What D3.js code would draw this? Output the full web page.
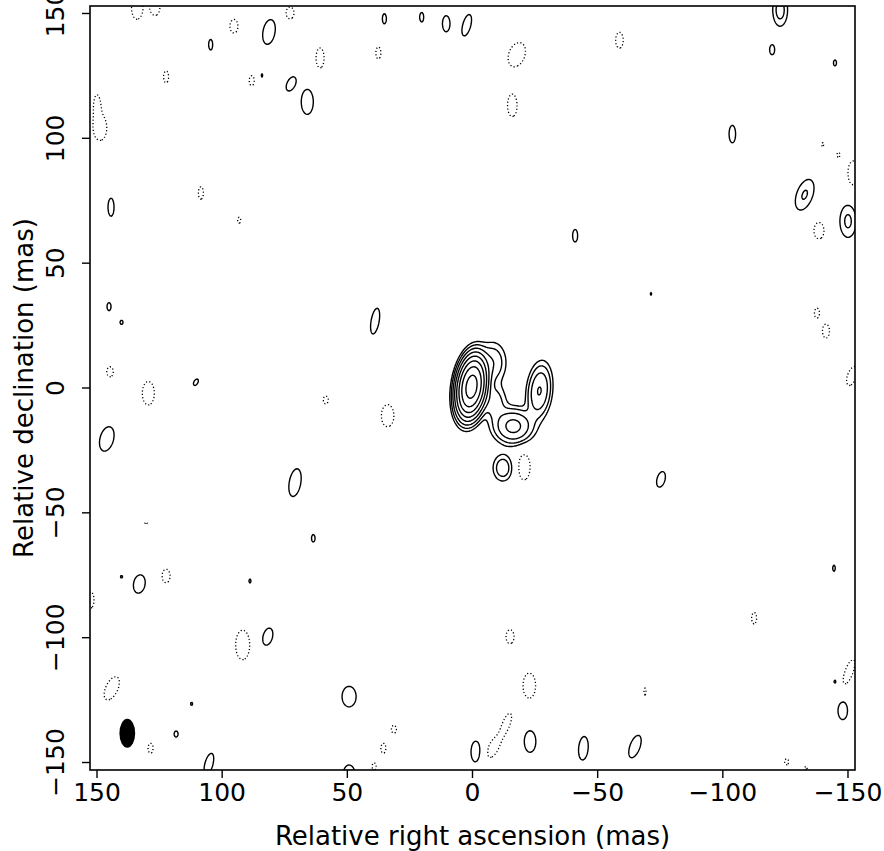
<!DOCTYPE html>
<html><head><meta charset="utf-8">
<script src="https://cdn.jsdelivr.net/npm/d3@7"></script>
<style>body{margin:0;background:#fff} text{font-family:"DejaVu Sans",sans-serif}</style>
</head><body><svg id="c" width="884" height="851"></svg>
<script>
// ---- data (mas) ----
const xTicks = [150, 100, 50, 0, -50, -100, -150];
const yTicks = [150, 100, 50, 0, -50, -100, -150];
const posLevels = [1, 2, 4, 8, 16, 32, 64, 128];
const negLevels = [1];
// Gaussian components: [ra, dec, peak, sigmaMinor, sigmaMajor, pa]
const sourceComponents = [
  [0.2, 0.3, 180, 2.6, 5.6, -8],
  [-8.5, 10.0, 3.5, 3.2, 5.0, 0],
  [-9.0, -6.0, 3.0, 3.0, 4.5, 0],
  [-26.9, -1.4, 8.3, 2.6, 6.0, -6],
  [-16.5, -15.5, 10, 4.3, 3.8, 0],
  [-12.3, -32.2, 3.3, 2.5, 3.4, 0]
];
const positiveNoise = [
  [-123.1, 151.2, 2.7, 2.1, 4.6, 0], [-119.9, 135.3, 1.65, 1.0, 2.0, 0],
  [-145.0, 130.0, 1.65, 0.6, 1.2, 0], [-104.0, 101.5, 1.65, 1.3, 3.5, 0],
  [-132.9, 77.2, 2.14, 2.6, 5.2, -20], [-150.2, 66.6, 2.3, 2.5, 5.0, 0],
  [-41.2, 60.8, 1.65, 1.0, 2.5, 0], [-71.5, 37.5, 1.65, 0.3, 0.5, 0],
  [104.4, 137.3, 1.65, 0.8, 2.1, 0], [81.1, 142.4, 1.65, 2.4, 5.0, -10],
  [35.0, 147.7, 1.65, 0.8, 2.0, 0], [20.1, 148.3, 1.65, 0.8, 1.9, 0],
  [10.3, 145.7, 1.65, 1.5, 3.2, 0], [2.1, 145.1, 1.65, 1.6, 4.4, -15],
  [83.9, 125.0, 1.65, 0.3, 0.6, 0], [72.3, 121.6, 1.65, 1.6, 3.0, -25],
  [65.8, 114.4, 1.65, 2.4, 5.0, 0], [144.2, 72.2, 1.65, 1.2, 3.6, 0],
  [145.0, 32.4, 1.65, 0.8, 1.6, 0], [140.0, 26.1, 1.65, 0.6, 0.8, 0],
  [110.3, 2.1, 1.65, 0.8, 1.4, -30], [145.9, -20.6, 1.65, 2.7, 5.0, -15],
  [38.7, 26.6, 1.65, 1.6, 5.2, -10], [70.7, -38.1, 1.65, 2.3, 5.6, -10],
  [-75.5, -36.8, 1.65, 1.6, 3.2, -15], [63.4, -60.4, 1.65, 0.7, 1.5, 0],
  [140.0, -75.8, 1.65, 0.4, 0.5, 0], [132.9, -78.7, 1.65, 2.3, 3.7, -10],
  [88.7, -77.5, 1.65, 0.4, 0.8, 0], [81.6, -99.8, 1.65, 1.9, 3.5, -15],
  [49.1, -123.8, 1.65, 2.8, 4.1, 0], [112.0, -126.7, 1.65, 0.4, 0.6, 0],
  [118.2, -138.8, 1.65, 0.8, 1.2, 0], [105.1, -150.8, 1.65, 1.6, 4.4, -15],
  [49.1, -155.2, 1.65, 2.4, 4.0, 0], [-144.6, -72.4, 1.65, 0.5, 1.2, 0],
  [-145.0, -117.8, 1.65, 0.4, 0.6, 0], [-148.1, -129.4, 1.65, 1.9, 3.6, 0],
  [-1.6, -146.0, 1.65, 2.0, 4.4, 0], [-23.2, -141.8, 1.65, 2.3, 4.3, 0],
  [-44.5, -144.5, 1.65, 1.9, 4.7, -5], [-65.1, -143.8, 1.65, 2.0, 4.7, -20]
];
const negativeNoise = [
  [133.8, 152.0, -1.65, 2.2, 4.5, 0], [126.6, 153.0, -1.65, 2.0, 4.0, 0],
  [72.7, 150.0, -1.65, 1.6, 2.4, 0], [95.1, 144.7, -1.65, 1.6, 2.7, 0],
  [60.7, 132.0, -1.65, 1.6, 4.0, 0], [37.4, 134.0, -1.65, 1.0, 2.4, 0],
  [122.2, 124.4, -1.65, 1.0, 2.4, 0], [88.0, 122.9, -1.65, 1.0, 2.0, 0],
  [148.6, 104.0, -1.5, 3.0, 5.6, 0], [149.8, 113.9, -1.3, 1.3, 4.0, 0],
  [108.3, 77.9, -1.65, 1.0, 2.5, 0], [93.0, 67.0, -1.65, 0.6, 1.2, 0],
  [-17.9, 133.3, -1.65, 3.2, 5.0, -20], [-58.9, 139.1, -1.65, 1.5, 3.2, 0],
  [-16.1, 113.0, -1.65, 1.9, 4.5, 0], [-140.1, 97.3, -1.65, 0.4, 0.8, 0],
  [-146.4, 93.2, -1.65, 0.6, 1.0, 0], [-152.2, 85.9, -1.65, 2.0, 4.8, 0],
  [-138.6, 62.8, -1.65, 2.0, 3.3, 0], [144.6, 6.3, -1.65, 1.3, 2.0, 0],
  [129.3, -2.3, -1.65, 2.4, 4.7, 0], [58.4, -5.0, -1.65, 1.0, 1.6, 0],
  [33.7, -11.3, -1.65, 2.5, 4.4, 0], [-137.8, 29.8, -1.65, 1.0, 2.0, 0],
  [-141.4, 22.6, -1.65, 1.4, 2.8, 0], [-151.8, 4.6, -1.65, 1.8, 4.0, -20],
  [130.2, -54.4, -1.65, 0.4, 0.5, 0], [122.2, -75.5, -1.65, 1.6, 2.7, 0],
  [152.2, -85.1, -1.65, 1.2, 3.2, 0], [91.6, -103.1, -1.65, 2.8, 5.9, 0],
  [143.9, -120.5, -1.65, 2.4, 5.0, -25], [128.4, -144.5, -1.65, 1.0, 2.0, 0],
  [31.2, -136.9, -1.65, 1.0, 1.6, 0], [35.4, -144.5, -1.65, 1.0, 2.0, 0],
  [39.1, -151.9, -1.65, 0.8, 1.6, 0], [-112.7, -92.4, -1.65, 1.0, 2.3, 0],
  [-15.2, -99.8, -1.65, 1.6, 2.8, 0], [-22.9, -119.4, -1.65, 2.5, 5.0, 0],
  [-69.1, -121.8, -1.65, 0.4, 1.4, 0], [-150.6, -113.9, -1.65, 1.6, 5.2, -20],
  [-8.4, -144.4, -1.4, 2.4, 5.2, -25], [-14.0, -134.0, -1.4, 1.6, 4.4, -20],
  [-125.7, -149.9, -1.65, 0.8, 1.2, 0],
  [-133.4, -152.4, -1.65, 0.5, 0.6, 0], [-20.8, -31.8, -1.65, 2.4, 5.2, 0]
];
// restoring beam: [ra, dec, minor FWHM, major FWHM, pa]
const beam = [137.7, -138.5, 6.3, 11.6, 0];
const xDomain = [152.6, -153.0];
const yDomain = [152.8, -153.2];

// ---- layout ----
const M = {left: 90, top: 6, right: 855, bottom: 770};
const svg = d3.select("#c");
const xs = d3.scaleLinear().domain(xDomain).range([M.left, M.right]);
const ys = d3.scaleLinear().domain(yDomain).range([M.top, M.bottom]);

// ---- image grid ----
const nx = Math.round(M.right - M.left) + 1, ny = Math.round(M.bottom - M.top) + 1;
const dx = (xDomain[1] - xDomain[0]) / (nx - 1), dy = (yDomain[1] - yDomain[0]) / (ny - 1);
const grid = new Float64Array(nx * ny);
const comps = sourceComponents.concat(positiveNoise, negativeNoise);
comps.forEach(([ra, dec, A, sa, sb, pa]) => {
  const t = pa * Math.PI / 180, c = Math.cos(t), s = Math.sin(t);
  const R = 4.5 * Math.max(sa, sb);
  const i0 = Math.max(0, Math.floor((ra + R - xDomain[0]) / dx)), i1 = Math.min(nx - 1, Math.ceil((ra - R - xDomain[0]) / dx));
  const j0 = Math.max(0, Math.floor((dec + R - yDomain[0]) / dy)), j1 = Math.min(ny - 1, Math.ceil((dec - R - yDomain[0]) / dy));
  for (let j = j0; j <= j1; j++) {
    const Y = yDomain[0] + j * dy - dec;
    for (let i = i0; i <= i1; i++) {
      const X = xDomain[0] + i * dx - ra;
      const u = X * c - Y * s, v = X * s + Y * c;
      grid[j * nx + i] += A * Math.exp(-0.5 * (u * u / (sa * sa) + v * v / (sb * sb)));
    }
  }
});
const neg = grid.map(v => -v);

const proj = d3.geoTransform({point(x, y) {
  this.stream.point(xs(xDomain[0] + (x - 0.5) * dx), ys(yDomain[0] + (y - 0.5) * dy));
}});
const path = d3.geoPath(proj);

svg.append("clipPath").attr("id", "clip").append("rect")
  .attr("x", M.left).attr("y", M.top).attr("width", M.right - M.left).attr("height", M.bottom - M.top);
const plot = svg.append("g").attr("clip-path", "url(#clip)");

const posC = d3.contours().size([nx, ny]).thresholds(posLevels)(grid);
plot.selectAll("path.pos").data(posC).join("path").attr("class", "pos")
  .attr("d", path).attr("fill", "none").attr("stroke", "#000").attr("stroke-width", 1.4);
const negC = d3.contours().size([nx, ny]).thresholds(negLevels)(neg);
plot.selectAll("path.neg").data(negC).join("path").attr("class", "neg")
  .attr("d", path).attr("fill", "none").attr("stroke", "#000").attr("stroke-width", 1.3)
  .attr("stroke-dasharray", "1.2 2.2");

// beam
const [bra, bdec, bmin, bmaj, bpa] = beam;
plot.append("ellipse")
  .attr("cx", xs(bra)).attr("cy", ys(bdec))
  .attr("rx", Math.abs(xs(bra - bmin / 2) - xs(bra)))
  .attr("ry", Math.abs(ys(bdec + bmaj / 2) - ys(bdec)))
  .attr("transform", `rotate(${-bpa},${xs(bra)},${ys(bdec)})`)
  .attr("fill", "#000");

// ---- axes ----
const fmt = d => d < 0 ? "\u2212" + Math.abs(d) : String(d);
const FS = 25;
const gx = svg.append("g").attr("transform", `translate(0,${M.bottom})`)
  .call(d3.axisBottom(xs).tickValues(xTicks).tickFormat(fmt).tickSizeInner(8).tickSizeOuter(0).tickPadding(5));
const gy = svg.append("g").attr("transform", `translate(${M.left},0)`)
  .call(d3.axisLeft(ys).tickValues(yTicks).tickFormat(fmt).tickSizeInner(8).tickSizeOuter(0));
[gx, gy].forEach(g => {
  g.select(".domain").remove();
  g.selectAll("line").attr("stroke", "#000").attr("stroke-width", 1.4);
  g.selectAll("text").attr("font-size", FS).attr("fill", "#000").attr("font-family", "DejaVu Sans");
});
gy.selectAll("text").attr("x", null).attr("dy", null).attr("text-anchor", "middle")
  .attr("transform", "translate(-26,0) rotate(-90)");

svg.append("rect").attr("x", M.left).attr("y", M.top)
  .attr("width", M.right - M.left).attr("height", M.bottom - M.top)
  .attr("fill", "none").attr("stroke", "#000").attr("stroke-width", 1.6);

svg.append("text").attr("x", (M.left + M.right) / 2).attr("y", 845)
  .attr("text-anchor", "middle").attr("font-size", FS + 1)
  .text("Relative right ascension (mas)");
svg.append("text").attr("transform", `translate(33,${(M.top + M.bottom) / 2}) rotate(-90)`)
  .attr("text-anchor", "middle").attr("font-size", FS + 1)
  .text("Relative declination (mas)");
</script></body></html>
